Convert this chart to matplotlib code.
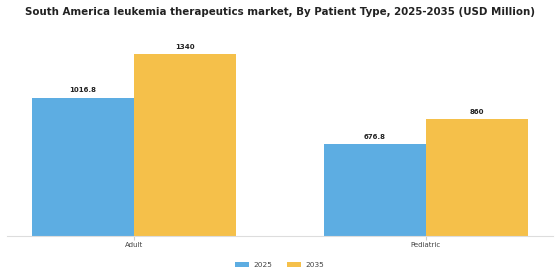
import matplotlib
matplotlib.use("Agg")
import matplotlib.pyplot as plt
import numpy as np

categories = ["Adult", "Pediatric"]
years = ["2025", "2035"]
values_2025 = [1016.8, 676.8]
values_2035 = [1340, 860]
colors = ["#5DADE2", "#F5C04A"]

fig = plt.figure(figsize=(5.6, 2.8), dpi=100)
ax = fig.add_axes([0.0125, 0.157, 0.975, 0.736])

x = np.arange(len(categories))
w = 0.35
b1 = ax.bar(x - w / 2, values_2025, w, color=colors[0], label=years[0])
b2 = ax.bar(x + w / 2, values_2035, w, color=colors[1], label=years[1])

for bars, vals in ((b1, values_2025), (b2, values_2035)):
    for r, v in zip(bars, vals):
        ax.text(r.get_x() + r.get_width() / 2, v + 35, f"{v:g}",
                ha="center", va="bottom", fontsize=5, fontweight="bold",
                color="#222222")

ax.set_xlim(-0.435, 1.435)
ax.set_ylim(0, 1520)
ax.set_xticks(x)
ax.set_xticklabels(categories, fontsize=5, color="#444444")
ax.tick_params(axis="x", length=3, color="#cccccc", pad=1)
ax.set_yticks([])
for s in ("top", "right", "left"):
    ax.spines[s].set_visible(False)
ax.spines["bottom"].set_color("#dddddd")
ax.spines["bottom"].set_linewidth(0.8)

fig.suptitle("South America leukemia therapeutics market, By Patient Type, 2025-2035 (USD Million)",
             fontsize=7.4, fontweight="bold", color="#222222", y=0.975)

fig.legend(loc="lower center", ncol=2, frameon=False, fontsize=5.3,
           bbox_to_anchor=(0.5, 0.02), handlelength=1.9, handleheight=0.7,
           handletextpad=0.6, columnspacing=2.0, labelcolor="#444444")

fig.savefig("out.png", dpi=100)
